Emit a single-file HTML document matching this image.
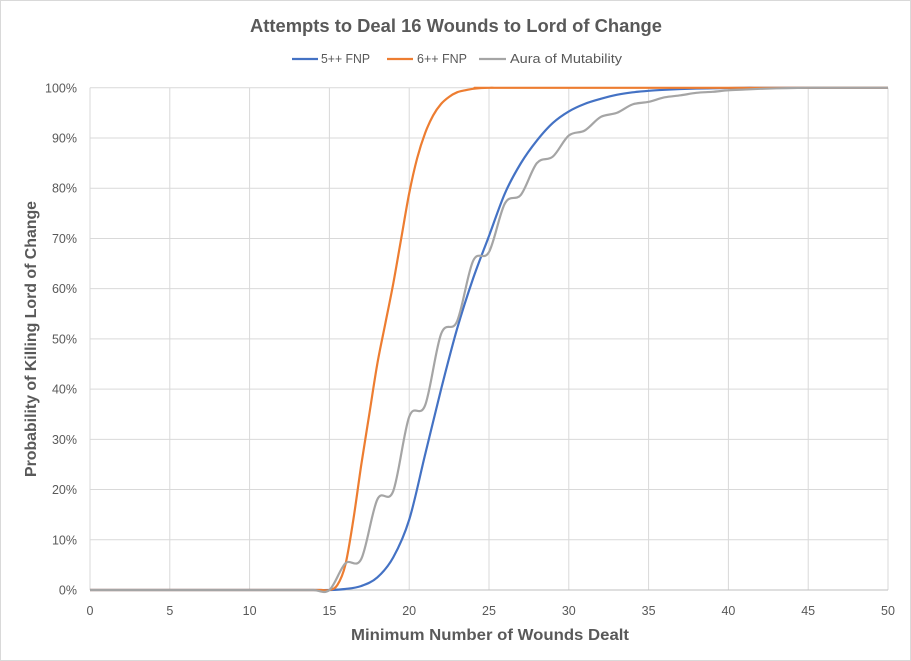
<!DOCTYPE html>
<html><head><meta charset="utf-8"><style>
html,body{margin:0;padding:0;background:#fff;}
svg{display:block;font-family:"Liberation Sans",sans-serif;}
</style></head><body>
<svg id="s" width="911" height="661" viewBox="0 0 911 661" xmlns="http://www.w3.org/2000/svg">
<rect x="0.5" y="0.5" width="910" height="660" fill="#fff" stroke="#d9d9d9"/>
<text x="456" y="32" text-anchor="middle" font-size="18" font-weight="bold" fill="#595959" textLength="412" lengthAdjust="spacingAndGlyphs">Attempts to Deal 16 Wounds to Lord of Change</text>
<g font-size="13" fill="#595959">
<line x1="292" y1="59" x2="318" y2="59" stroke="#4472c4" stroke-width="2.2"/>
<text x="321" y="63" textLength="49" lengthAdjust="spacingAndGlyphs">5++ FNP</text>
<line x1="387" y1="59" x2="413" y2="59" stroke="#ed7d31" stroke-width="2.2"/>
<text x="417" y="63" textLength="50" lengthAdjust="spacingAndGlyphs">6++ FNP</text>
<line x1="479" y1="59" x2="506" y2="59" stroke="#a5a5a5" stroke-width="2.2"/>
<text x="510" y="63" textLength="112" lengthAdjust="spacingAndGlyphs">Aura of Mutability</text>
</g>
<g id="grid" stroke="#d9d9d9" stroke-width="1"></g>
<g id="labels" font-size="12.5" fill="#595959"></g>
<g id="series" fill="none" stroke-width="2.2" stroke-linejoin="round"></g>
<text x="490" y="640" text-anchor="middle" font-size="16" font-weight="bold" fill="#595959" textLength="278" lengthAdjust="spacingAndGlyphs">Minimum Number of Wounds Dealt</text>
<text transform="translate(36,339) rotate(-90)" text-anchor="middle" font-size="16" font-weight="bold" fill="#595959" textLength="276" lengthAdjust="spacingAndGlyphs">Probability of Killing Lord of Change</text>
</svg>
<script>
var X0=90,SX=15.96,Y0=590,SY=5.022;
function px(u){return X0+SX*u}function py(p){return Y0-SY*p}
var g=document.getElementById('grid'),l=document.getElementById('labels'),ns='http://www.w3.org/2000/svg';
function el(t,a,p){var e=document.createElementNS(ns,t);for(var k in a)e.setAttribute(k,a[k]);p.appendChild(e);return e}
for(var i=0;i<=10;i++){var y=py(i*10);el('line',{x1:X0,x2:px(50),y1:y,y2:y},g);var t=el('text',{x:77,y:y+4.5,'text-anchor':'end'},l);t.textContent=(i*10)+'%';}
for(var i=0;i<=10;i++){var x=px(i*5);el('line',{x1:x,x2:x,y1:py(100),y2:Y0},g);var t=el('text',{x:x,y:615,'text-anchor':'middle'},l);t.textContent=i*5;}
el('line',{x1:X0,x2:px(50),y1:Y0,y2:Y0,stroke:'#bfbfbf'},g);
function path(pts){var s='M'+px(pts[0][0])+','+py(pts[0][1]);
for(var i=0;i<pts.length-1;i++){var p0=pts[Math.max(0,i-1)],p1=pts[i],p2=pts[i+1],p3=pts[Math.min(pts.length-1,i+2)];
var a=[px(p0[0]),py(p0[1])],b=[px(p1[0]),py(p1[1])],c=[px(p2[0]),py(p2[1])],d=[px(p3[0]),py(p3[1])];
s+=' C'+(b[0]+(c[0]-a[0])/6)+','+(b[1]+(c[1]-a[1])/6)+' '+(c[0]-(d[0]-b[0])/6)+','+(c[1]-(d[1]-b[1])/6)+' '+c[0]+','+c[1];}
return s;}
function zeros(n,step){var a=[];for(var u=0;u<=n+1e-9;u+=step)a.push([u,0]);return a;}
var blue=zeros(15,1).concat([[16,0.2],[17,0.8],[18,2.5],[19,6.5],[20,14],[21,27],[22,40],[23,52],[24,62],[25,70.5],[26,79],[27,85],[28,89.5],[29,93],[30,95.3],[31,96.8],[32,97.8],[33,98.6],[34,99.1],[35,99.4],[36,99.6],[37,99.75],[38,99.85],[39,99.9],[40,99.95],[41,100],[42,100],[43,100],[44,100],[45,100],[46,100],[47,100],[48,100],[49,100],[50,100]]);
var orange=zeros(15,0.5).concat([[15.5,1],[16,5],[16.5,14],[17,25],[17.5,35],[18,45],[18.5,53],[19,61],[19.5,70],[20,79],[20.5,86],[21,91],[21.5,94.5],[22,96.8],[22.5,98.2],[23,99.1],[23.5,99.5],[24,99.8],[24.5,99.95],[25,100],[25.5,100],[26,100],[50,100]]);
var gray=zeros(15,1).concat([[16,5.3],[17,6.2],[18,18],[19,19.7],[20,34.5],[21,36.8],[22,51],[23,53.5],[24,65.5],[25,67.3],[26,77],[27,78.7],[28,85],[29,86.3],[30,90.5],[31,91.5],[32,94.2],[33,95],[34,96.7],[35,97.2],[36,98.1],[37,98.5],[38,99],[39,99.2],[40,99.5],[41,99.65],[42,99.8],[43,99.9],[44,99.95],[45,100],[46,100],[47,100],[48,100],[49,100],[50,100]]);
var s=document.getElementById('series');
el('path',{d:path(blue),stroke:'#4472c4'},s);
el('path',{d:path(orange),stroke:'#ed7d31'},s);
el('path',{d:path(gray),stroke:'#a5a5a5'},s);
</script>
</body></html>
